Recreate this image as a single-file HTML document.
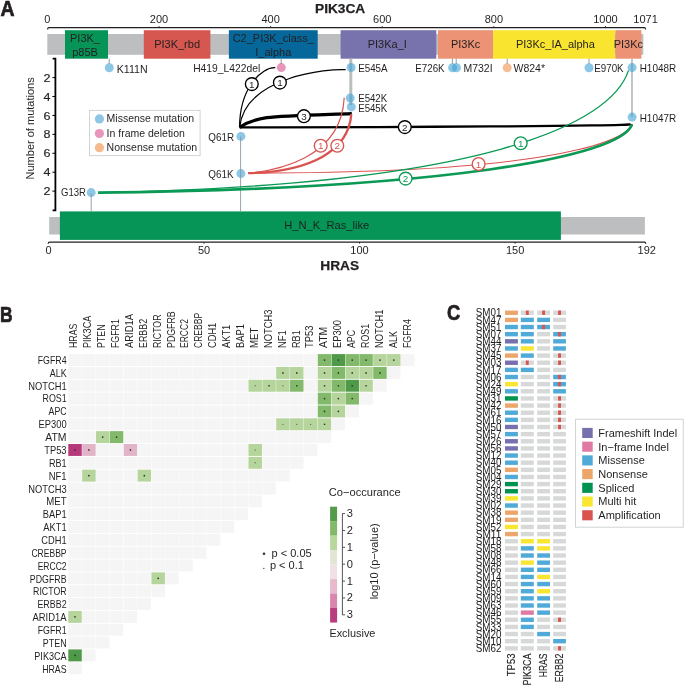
<!DOCTYPE html>
<html><head><meta charset="utf-8"><style>
html,body{margin:0;padding:0;background:#fff;overflow:hidden;}
svg{display:block;font-family:"Liberation Sans", sans-serif;will-change:transform;}
</style></head><body>
<svg width="685" height="686" viewBox="0 0 685 686">
<rect width="685" height="686" fill="#fff"/>
<text transform="translate(0.4,15.5) scale(0.9,1)" font-size="21.6" font-weight="bold" fill="#231f20" stroke="#231f20" stroke-width="0.7">A</text>
<text x="315.00" y="13.10" font-size="13.7" text-anchor="start" font-weight="bold" fill="#231f20" stroke="#231f20" stroke-width="0.25">PIK3CA</text>
<path d="M47.6,29.4 Q47.6,27.6 49,27.6 H644.2 Q645.6,27.6 645.6,29.4" fill="none" stroke="#231f20" stroke-width="1.2"/>
<line x1="159.02" y1="26.2" x2="159.02" y2="27.6" stroke="#231f20" stroke-width="1"/>
<line x1="270.64" y1="26.2" x2="270.64" y2="27.6" stroke="#231f20" stroke-width="1"/>
<line x1="382.26" y1="26.2" x2="382.26" y2="27.6" stroke="#231f20" stroke-width="1"/>
<line x1="493.88" y1="26.2" x2="493.88" y2="27.6" stroke="#231f20" stroke-width="1"/>
<line x1="605.50" y1="26.2" x2="605.50" y2="27.6" stroke="#231f20" stroke-width="1"/>
<text x="47.40" y="22.90" font-size="11" text-anchor="middle" font-weight="normal" fill="#231f20" >0</text>
<text x="159.02" y="22.90" font-size="11" text-anchor="middle" font-weight="normal" fill="#231f20" >200</text>
<text x="270.64" y="22.90" font-size="11" text-anchor="middle" font-weight="normal" fill="#231f20" >400</text>
<text x="382.26" y="22.90" font-size="11" text-anchor="middle" font-weight="normal" fill="#231f20" >600</text>
<text x="493.88" y="22.90" font-size="11" text-anchor="middle" font-weight="normal" fill="#231f20" >800</text>
<text x="605.50" y="22.90" font-size="11" text-anchor="middle" font-weight="normal" fill="#231f20" >1000</text>
<text x="645.60" y="22.90" font-size="11" text-anchor="middle" font-weight="normal" fill="#231f20" >1071</text>
<rect x="47.3" y="34.0" width="596" height="20.8" fill="#bcbec0"/>
<rect x="65.0" y="30.2" width="43.00" height="28.5" fill="#069457"/>
<text x="85.00" y="41.90" font-size="11" text-anchor="middle" font-weight="normal" fill="#231f20" >PI3K_</text>
<text x="85.00" y="55.60" font-size="11" text-anchor="middle" font-weight="normal" fill="#231f20" >p85B</text>
<rect x="143.8" y="30.2" width="66.60" height="28.5" fill="#d6574f"/>
<text x="177.10" y="48.20" font-size="11" text-anchor="middle" font-weight="normal" fill="#231f20" >PI3K_rbd</text>
<rect x="228.9" y="30.2" width="88.80" height="28.5" fill="#06679b"/>
<text x="273.30" y="41.90" font-size="11" text-anchor="middle" font-weight="normal" fill="#231f20" >C2_PI3K_class_</text>
<text x="273.30" y="55.60" font-size="11" text-anchor="middle" font-weight="normal" fill="#231f20" >I_alpha</text>
<rect x="340.6" y="30.2" width="95.70" height="28.5" fill="#7873ad"/>
<text x="387.30" y="48.20" font-size="11" text-anchor="middle" font-weight="normal" fill="#231f20" >PI3Ka_I</text>
<rect x="438.0" y="30.2" width="55.20" height="28.5" fill="#ec9376"/>
<text x="465.60" y="48.20" font-size="11" text-anchor="middle" font-weight="normal" fill="#231f20" >PI3Kc</text>
<rect x="493.2" y="30.2" width="121.90" height="28.5" fill="#f9e52f"/>
<text x="555.40" y="48.20" font-size="11" text-anchor="middle" font-weight="normal" fill="#231f20" >PI3Kc_IA_alpha</text>
<rect x="615.3" y="30.2" width="26.10" height="28.5" fill="#ec9376"/>
<text x="628.35" y="48.20" font-size="11" text-anchor="middle" font-weight="normal" fill="#231f20" >PI3Kc</text>
<line x1="350.8" y1="58.7" x2="350.8" y2="105" stroke="#bbbec1" stroke-width="3"/>
<line x1="632" y1="58.7" x2="632" y2="117" stroke="#bbbec1" stroke-width="1.8"/>
<line x1="109.2" y1="58.7" x2="109.2" y2="64" stroke="#8d8f92" stroke-width="0.9"/>
<line x1="281.2" y1="58.7" x2="281.2" y2="64" stroke="#8d8f92" stroke-width="0.9"/>
<line x1="452.4" y1="58.7" x2="452.4" y2="64" stroke="#8d8f92" stroke-width="0.9"/>
<line x1="456.2" y1="58.7" x2="456.2" y2="64" stroke="#8d8f92" stroke-width="0.9"/>
<line x1="507.2" y1="58.7" x2="507.2" y2="64" stroke="#8d8f92" stroke-width="0.9"/>
<line x1="589.0" y1="58.7" x2="589.0" y2="64" stroke="#8d8f92" stroke-width="0.9"/>
<circle cx="109.3" cy="67.7" r="4.5" fill="#41a2d5" fill-opacity="0.6"/>
<circle cx="281.3" cy="67.6" r="4.5" fill="#d8508c" fill-opacity="0.6"/>
<circle cx="351.1" cy="67.5" r="4.5" fill="#41a2d5" fill-opacity="0.6"/>
<circle cx="350.2" cy="98.1" r="4.5" fill="#41a2d5" fill-opacity="0.6"/>
<circle cx="351.3" cy="106.9" r="4.5" fill="#41a2d5" fill-opacity="0.6"/>
<circle cx="452.6" cy="67.8" r="4.5" fill="#41a2d5" fill-opacity="0.6"/>
<circle cx="456.4" cy="67.8" r="4.5" fill="#41a2d5" fill-opacity="0.6"/>
<circle cx="507.2" cy="67.8" r="4.5" fill="#ee934d" fill-opacity="0.6"/>
<circle cx="589.0" cy="67.8" r="4.5" fill="#41a2d5" fill-opacity="0.6"/>
<circle cx="632.1" cy="67.6" r="4.5" fill="#41a2d5" fill-opacity="0.6"/>
<circle cx="632.1" cy="117.1" r="4.5" fill="#41a2d5" fill-opacity="0.6"/>
<text x="116.70" y="72.60" font-size="10.2" fill="#231f20" textLength="30.90" lengthAdjust="spacingAndGlyphs">K111N</text>
<text x="193.20" y="72.20" font-size="10.2" fill="#231f20" textLength="67.00" lengthAdjust="spacingAndGlyphs">H419_L422del</text>
<text x="358.20" y="71.90" font-size="10.2" fill="#231f20" textLength="29.40" lengthAdjust="spacingAndGlyphs">E545A</text>
<text x="358.20" y="102.40" font-size="10.2" fill="#231f20" textLength="29.00" lengthAdjust="spacingAndGlyphs">E542K</text>
<text x="358.20" y="112.10" font-size="10.2" fill="#231f20" textLength="29.00" lengthAdjust="spacingAndGlyphs">E545K</text>
<text x="415.30" y="72.20" font-size="10.2" fill="#231f20" textLength="29.30" lengthAdjust="spacingAndGlyphs">E726K</text>
<text x="463.50" y="72.20" font-size="10.2" fill="#231f20" textLength="29.10" lengthAdjust="spacingAndGlyphs">M732I</text>
<text x="513.50" y="72.20" font-size="10.2" fill="#231f20" textLength="31.50" lengthAdjust="spacingAndGlyphs">W824*</text>
<text x="594.30" y="72.20" font-size="10.2" fill="#231f20" textLength="29.30" lengthAdjust="spacingAndGlyphs">E970K</text>
<text x="639.70" y="71.90" font-size="10.2" fill="#231f20" textLength="36.50" lengthAdjust="spacingAndGlyphs">H1048R</text>
<text x="639.70" y="121.60" font-size="10.2" fill="#231f20" textLength="36.50" lengthAdjust="spacingAndGlyphs">H1047R</text>
<path d="M52.6,58.7 H55.4 V210.4 H52.6" fill="none" stroke="#000" stroke-width="1.8"/>
<line x1="52.4" y1="77.60" x2="55" y2="77.60" stroke="#000" stroke-width="1"/>
<text transform="translate(50.5,81.70) scale(1.1,1)" font-size="11.4" text-anchor="end" fill="#231f20" stroke="#231f20" stroke-width="0.15">2</text>
<line x1="52.4" y1="96.52" x2="55" y2="96.52" stroke="#000" stroke-width="1"/>
<text transform="translate(50.5,100.62) scale(1.1,1)" font-size="11.4" text-anchor="end" fill="#231f20" stroke="#231f20" stroke-width="0.15">4</text>
<line x1="52.4" y1="115.44" x2="55" y2="115.44" stroke="#000" stroke-width="1"/>
<text transform="translate(50.5,119.54) scale(1.1,1)" font-size="11.4" text-anchor="end" fill="#231f20" stroke="#231f20" stroke-width="0.15">6</text>
<line x1="52.4" y1="134.36" x2="55" y2="134.36" stroke="#000" stroke-width="1"/>
<text transform="translate(50.5,138.46) scale(1.1,1)" font-size="11.4" text-anchor="end" fill="#231f20" stroke="#231f20" stroke-width="0.15">8</text>
<line x1="52.4" y1="153.28" x2="55" y2="153.28" stroke="#000" stroke-width="1"/>
<text transform="translate(50.5,157.38) scale(1.1,1)" font-size="11.4" text-anchor="end" fill="#231f20" stroke="#231f20" stroke-width="0.15">6</text>
<line x1="52.4" y1="172.20" x2="55" y2="172.20" stroke="#000" stroke-width="1"/>
<text transform="translate(50.5,176.30) scale(1.1,1)" font-size="11.4" text-anchor="end" fill="#231f20" stroke="#231f20" stroke-width="0.15">4</text>
<line x1="52.4" y1="191.12" x2="55" y2="191.12" stroke="#000" stroke-width="1"/>
<text transform="translate(50.5,195.22) scale(1.1,1)" font-size="11.4" text-anchor="end" fill="#231f20" stroke="#231f20" stroke-width="0.15">2</text>
<text x="0.00" y="0.00" font-size="11" text-anchor="middle" font-weight="normal" fill="#231f20" transform="translate(34.1,128.4) rotate(-90)">Number of mutations</text>
<rect x="89.5" y="110.4" width="110.6" height="45.2" fill="#fff" stroke="#d1d3d4" stroke-width="1"/>
<circle cx="99.4" cy="118.9" r="4.6" fill="#8ec7e6"/>
<text x="106.60" y="122.30" font-size="10.5" text-anchor="start" font-weight="normal" fill="#231f20" >Missense mutation</text>
<circle cx="99.4" cy="133.5" r="4.6" fill="#e896bb"/>
<text x="106.60" y="136.90" font-size="10.5" text-anchor="start" font-weight="normal" fill="#231f20" >In frame deletion</text>
<circle cx="99.4" cy="147.7" r="4.6" fill="#f5bb8e"/>
<text x="106.60" y="151.10" font-size="10.5" text-anchor="start" font-weight="normal" fill="#231f20" >Nonsense mutation</text>
<rect x="49.2" y="217.0" width="595.7" height="17.5" fill="#bcbec0"/>
<rect x="59.9" y="211.4" width="501.0" height="28.5" fill="#069457"/>
<text x="284.2" y="228.5" font-size="10.9" fill="#1a2420" textLength="85.0" lengthAdjust="spacingAndGlyphs">H_N_K_Ras_like</text>
<path d="M48.2,243.8 Q48.2,242.1 49.6,242.1 H644.4 Q645.8,242.1 645.8,243.8" fill="none" stroke="#231f20" stroke-width="1.2"/>
<line x1="204.00" y1="242" x2="204.00" y2="243.6" stroke="#231f20" stroke-width="1"/>
<line x1="359.55" y1="242" x2="359.55" y2="243.6" stroke="#231f20" stroke-width="1"/>
<line x1="515.10" y1="242" x2="515.10" y2="243.6" stroke="#231f20" stroke-width="1"/>
<text x="48.50" y="253.90" font-size="11" text-anchor="middle" font-weight="normal" fill="#231f20" >0</text>
<text x="204.00" y="253.90" font-size="11" text-anchor="middle" font-weight="normal" fill="#231f20" >50</text>
<text x="359.55" y="253.90" font-size="11" text-anchor="middle" font-weight="normal" fill="#231f20" >100</text>
<text x="515.10" y="253.90" font-size="11" text-anchor="middle" font-weight="normal" fill="#231f20" >150</text>
<text x="646.80" y="253.90" font-size="11" text-anchor="middle" font-weight="normal" fill="#231f20" >192</text>
<text x="320.30" y="270.10" font-size="13.7" text-anchor="start" font-weight="bold" fill="#231f20" stroke="#231f20" stroke-width="0.25">HRAS</text>
<circle cx="240.9" cy="136.4" r="4.5" fill="#41a2d5" fill-opacity="0.6"/>
<circle cx="240.9" cy="173.6" r="4.5" fill="#41a2d5" fill-opacity="0.6"/>
<circle cx="91.2" cy="192.6" r="4.5" fill="#41a2d5" fill-opacity="0.6"/>
<line x1="240.6" y1="136.5" x2="240.6" y2="211.4" stroke="#8a97a3" stroke-width="0.9"/>
<line x1="91.2" y1="193" x2="91.2" y2="211.4" stroke="#8a97a3" stroke-width="0.9"/>
<text x="208.30" y="140.80" font-size="10.2" fill="#231f20" textLength="25.70" lengthAdjust="spacingAndGlyphs">Q61R</text>
<text x="208.30" y="177.60" font-size="10.2" fill="#231f20" textLength="25.30" lengthAdjust="spacingAndGlyphs">Q61K</text>
<text x="61.00" y="196.40" font-size="10.2" fill="#231f20" textLength="25.00" lengthAdjust="spacingAndGlyphs">G13R</text>
<path d="M239.6,127.3 C239.5,88.1 261.7,66.9 275.3,67.7" fill="none" stroke="#000" stroke-width="1.25"/>
<path d="M239.6,127.3 C245.3,75.8 329.5,68.6 345.7,69.7" fill="none" stroke="#000" stroke-width="1.25"/>
<path d="M239.6,127.3 C257.6,115.7 267.5,116.5 351.8,113.6" fill="none" stroke="#000" stroke-width="3.3"/>
<path d="M239.6,127.3 C386.3,127.5 631.7,125.9 631.5,124.2" fill="none" stroke="#000" stroke-width="2.3"/>
<path d="M248.2,173.1 C274.3,170.6 341.4,159.6 344.2,97.6" fill="none" stroke="#d9534f" stroke-width="1.15"/>
<path d="M248.2,173.1 C310.6,171.6 348.6,151.1 351.3,114.2" fill="none" stroke="#d9534f" stroke-width="2.3"/>
<path d="M248.2,173.1 C615.4,173.1 631.8,127.0 631.8,124.5" fill="none" stroke="#d9534f" stroke-width="1.15"/>
<path d="M98.0,192.7 C483.7,185.1 611.0,124.6 628.5,70.4" fill="none" stroke="#0a9a55" stroke-width="1.3"/>
<path d="M98.0,192.7 C443.3,188.9 619.0,157.2 632.0,124.8" fill="none" stroke="#0a9a55" stroke-width="2.7"/>
<circle cx="251.8" cy="84.1" r="6.4" fill="#fff" stroke="#000" stroke-width="1.35"/>
<text x="251.80" y="87.60" font-size="9.9" text-anchor="middle" font-weight="normal" fill="#231f20" >1</text>
<circle cx="279.9" cy="82.6" r="6.4" fill="#fff" stroke="#000" stroke-width="1.35"/>
<text x="279.90" y="86.10" font-size="9.9" text-anchor="middle" font-weight="normal" fill="#231f20" >1</text>
<circle cx="303.9" cy="116.2" r="6.4" fill="#fff" stroke="#000" stroke-width="1.35"/>
<text x="303.90" y="119.70" font-size="9.9" text-anchor="middle" font-weight="normal" fill="#231f20" >3</text>
<circle cx="404.8" cy="127.1" r="6.4" fill="#fff" stroke="#000" stroke-width="1.35"/>
<text x="404.80" y="130.60" font-size="9.9" text-anchor="middle" font-weight="normal" fill="#231f20" >2</text>
<circle cx="320.7" cy="145.7" r="6.4" fill="#fff" stroke="#d9534f" stroke-width="1.35"/>
<text x="320.70" y="149.20" font-size="9.9" text-anchor="middle" font-weight="normal" fill="#d9534f" >1</text>
<circle cx="337.3" cy="145.7" r="6.4" fill="#fff" stroke="#d9534f" stroke-width="1.35"/>
<text x="337.30" y="149.20" font-size="9.9" text-anchor="middle" font-weight="normal" fill="#d9534f" >2</text>
<circle cx="478.6" cy="164.0" r="6.4" fill="#fff" stroke="#d9534f" stroke-width="1.35"/>
<text x="478.60" y="167.50" font-size="9.9" text-anchor="middle" font-weight="normal" fill="#d9534f" >1</text>
<circle cx="520.7" cy="143.2" r="6.4" fill="#fff" stroke="#0a9a55" stroke-width="1.35"/>
<text x="520.70" y="146.70" font-size="9.9" text-anchor="middle" font-weight="normal" fill="#0a9a55" >1</text>
<circle cx="405.6" cy="178.6" r="6.4" fill="#fff" stroke="#0a9a55" stroke-width="1.35"/>
<text x="405.60" y="182.10" font-size="9.9" text-anchor="middle" font-weight="normal" fill="#0a9a55" >2</text>
<text transform="translate(-0.1,321.8) scale(0.8,1)" font-size="21.8" font-weight="bold" fill="#231f20" stroke="#231f20" stroke-width="0.7">B</text>
<rect x="68.30" y="354.10" width="13.46" height="11.94" fill="#f5f5f5"/>
<rect x="82.16" y="354.10" width="13.46" height="11.94" fill="#f5f5f5"/>
<rect x="96.02" y="354.10" width="13.46" height="11.94" fill="#f5f5f5"/>
<rect x="109.88" y="354.10" width="13.46" height="11.94" fill="#f5f5f5"/>
<rect x="123.74" y="354.10" width="13.46" height="11.94" fill="#f5f5f5"/>
<rect x="137.60" y="354.10" width="13.46" height="11.94" fill="#f5f5f5"/>
<rect x="151.46" y="354.10" width="13.46" height="11.94" fill="#f5f5f5"/>
<rect x="165.32" y="354.10" width="13.46" height="11.94" fill="#f5f5f5"/>
<rect x="179.18" y="354.10" width="13.46" height="11.94" fill="#f5f5f5"/>
<rect x="193.04" y="354.10" width="13.46" height="11.94" fill="#f5f5f5"/>
<rect x="206.90" y="354.10" width="13.46" height="11.94" fill="#f5f5f5"/>
<rect x="220.76" y="354.10" width="13.46" height="11.94" fill="#f5f5f5"/>
<rect x="234.62" y="354.10" width="13.46" height="11.94" fill="#f5f5f5"/>
<rect x="248.48" y="354.10" width="13.46" height="11.94" fill="#f5f5f5"/>
<rect x="262.34" y="354.10" width="13.46" height="11.94" fill="#f5f5f5"/>
<rect x="276.20" y="354.10" width="13.46" height="11.94" fill="#f5f5f5"/>
<rect x="290.06" y="354.10" width="13.46" height="11.94" fill="#f5f5f5"/>
<rect x="303.92" y="354.10" width="13.46" height="11.94" fill="#f5f5f5"/>
<rect x="317.78" y="354.10" width="13.46" height="11.94" fill="#82b96a"/>
<circle cx="324.51" cy="360.07" r="0.85" fill="#333"/>
<rect x="331.64" y="354.10" width="13.46" height="11.94" fill="#4f9a48"/>
<circle cx="338.37" cy="360.07" r="0.85" fill="#333"/>
<rect x="345.50" y="354.10" width="13.46" height="11.94" fill="#82b96a"/>
<circle cx="352.23" cy="360.07" r="0.85" fill="#333"/>
<rect x="359.36" y="354.10" width="13.46" height="11.94" fill="#82b96a"/>
<circle cx="366.09" cy="360.07" r="0.85" fill="#333"/>
<rect x="373.22" y="354.10" width="13.46" height="11.94" fill="#b6d59c"/>
<circle cx="379.95" cy="360.07" r="0.85" fill="#333"/>
<rect x="387.08" y="354.10" width="13.46" height="11.94" fill="#b6d59c"/>
<circle cx="393.81" cy="360.07" r="0.85" fill="#333"/>
<rect x="400.94" y="354.10" width="13.46" height="11.94" fill="#f5f5f5"/>
<rect x="68.30" y="366.94" width="13.46" height="11.94" fill="#f5f5f5"/>
<rect x="82.16" y="366.94" width="13.46" height="11.94" fill="#f5f5f5"/>
<rect x="96.02" y="366.94" width="13.46" height="11.94" fill="#f5f5f5"/>
<rect x="109.88" y="366.94" width="13.46" height="11.94" fill="#f5f5f5"/>
<rect x="123.74" y="366.94" width="13.46" height="11.94" fill="#f5f5f5"/>
<rect x="137.60" y="366.94" width="13.46" height="11.94" fill="#f5f5f5"/>
<rect x="151.46" y="366.94" width="13.46" height="11.94" fill="#f5f5f5"/>
<rect x="165.32" y="366.94" width="13.46" height="11.94" fill="#f5f5f5"/>
<rect x="179.18" y="366.94" width="13.46" height="11.94" fill="#f5f5f5"/>
<rect x="193.04" y="366.94" width="13.46" height="11.94" fill="#f5f5f5"/>
<rect x="206.90" y="366.94" width="13.46" height="11.94" fill="#f5f5f5"/>
<rect x="220.76" y="366.94" width="13.46" height="11.94" fill="#f5f5f5"/>
<rect x="234.62" y="366.94" width="13.46" height="11.94" fill="#f5f5f5"/>
<rect x="248.48" y="366.94" width="13.46" height="11.94" fill="#f5f5f5"/>
<rect x="262.34" y="366.94" width="13.46" height="11.94" fill="#f5f5f5"/>
<rect x="276.20" y="366.94" width="13.46" height="11.94" fill="#b6d59c"/>
<circle cx="282.93" cy="372.91" r="0.85" fill="#333"/>
<rect x="290.06" y="366.94" width="13.46" height="11.94" fill="#b6d59c"/>
<circle cx="296.79" cy="372.91" r="0.85" fill="#333"/>
<rect x="303.92" y="366.94" width="13.46" height="11.94" fill="#f5f5f5"/>
<rect x="317.78" y="366.94" width="13.46" height="11.94" fill="#b6d59c"/>
<circle cx="324.51" cy="372.91" r="0.85" fill="#333"/>
<rect x="331.64" y="366.94" width="13.46" height="11.94" fill="#82b96a"/>
<circle cx="338.37" cy="372.91" r="0.85" fill="#333"/>
<rect x="345.50" y="366.94" width="13.46" height="11.94" fill="#b6d59c"/>
<circle cx="352.23" cy="372.91" r="0.85" fill="#333"/>
<rect x="359.36" y="366.94" width="13.46" height="11.94" fill="#b6d59c"/>
<circle cx="366.09" cy="372.91" r="0.85" fill="#333"/>
<rect x="373.22" y="366.94" width="13.46" height="11.94" fill="#82b96a"/>
<circle cx="379.95" cy="372.91" r="0.85" fill="#333"/>
<rect x="387.08" y="366.94" width="13.46" height="11.94" fill="#f5f5f5"/>
<rect x="68.30" y="379.78" width="13.46" height="11.94" fill="#f5f5f5"/>
<rect x="82.16" y="379.78" width="13.46" height="11.94" fill="#f5f5f5"/>
<rect x="96.02" y="379.78" width="13.46" height="11.94" fill="#f5f5f5"/>
<rect x="109.88" y="379.78" width="13.46" height="11.94" fill="#f5f5f5"/>
<rect x="123.74" y="379.78" width="13.46" height="11.94" fill="#f5f5f5"/>
<rect x="137.60" y="379.78" width="13.46" height="11.94" fill="#f5f5f5"/>
<rect x="151.46" y="379.78" width="13.46" height="11.94" fill="#f5f5f5"/>
<rect x="165.32" y="379.78" width="13.46" height="11.94" fill="#f5f5f5"/>
<rect x="179.18" y="379.78" width="13.46" height="11.94" fill="#f5f5f5"/>
<rect x="193.04" y="379.78" width="13.46" height="11.94" fill="#f5f5f5"/>
<rect x="206.90" y="379.78" width="13.46" height="11.94" fill="#f5f5f5"/>
<rect x="220.76" y="379.78" width="13.46" height="11.94" fill="#f5f5f5"/>
<rect x="234.62" y="379.78" width="13.46" height="11.94" fill="#f5f5f5"/>
<rect x="248.48" y="379.78" width="13.46" height="11.94" fill="#b6d59c"/>
<circle cx="255.21" cy="385.75" r="0.55" fill="#333"/>
<rect x="262.34" y="379.78" width="13.46" height="11.94" fill="#b6d59c"/>
<circle cx="269.07" cy="385.75" r="0.85" fill="#333"/>
<rect x="276.20" y="379.78" width="13.46" height="11.94" fill="#b6d59c"/>
<circle cx="282.93" cy="385.75" r="0.55" fill="#333"/>
<rect x="290.06" y="379.78" width="13.46" height="11.94" fill="#82b96a"/>
<circle cx="296.79" cy="385.75" r="0.85" fill="#333"/>
<rect x="303.92" y="379.78" width="13.46" height="11.94" fill="#f5f5f5"/>
<rect x="317.78" y="379.78" width="13.46" height="11.94" fill="#b6d59c"/>
<circle cx="324.51" cy="385.75" r="0.85" fill="#333"/>
<rect x="331.64" y="379.78" width="13.46" height="11.94" fill="#82b96a"/>
<circle cx="338.37" cy="385.75" r="0.85" fill="#333"/>
<rect x="345.50" y="379.78" width="13.46" height="11.94" fill="#4f9a48"/>
<circle cx="352.23" cy="385.75" r="0.85" fill="#333"/>
<rect x="359.36" y="379.78" width="13.46" height="11.94" fill="#b6d59c"/>
<circle cx="366.09" cy="385.75" r="0.85" fill="#333"/>
<rect x="373.22" y="379.78" width="13.46" height="11.94" fill="#f5f5f5"/>
<rect x="68.30" y="392.62" width="13.46" height="11.94" fill="#f5f5f5"/>
<rect x="82.16" y="392.62" width="13.46" height="11.94" fill="#f5f5f5"/>
<rect x="96.02" y="392.62" width="13.46" height="11.94" fill="#f5f5f5"/>
<rect x="109.88" y="392.62" width="13.46" height="11.94" fill="#f5f5f5"/>
<rect x="123.74" y="392.62" width="13.46" height="11.94" fill="#f5f5f5"/>
<rect x="137.60" y="392.62" width="13.46" height="11.94" fill="#f5f5f5"/>
<rect x="151.46" y="392.62" width="13.46" height="11.94" fill="#f5f5f5"/>
<rect x="165.32" y="392.62" width="13.46" height="11.94" fill="#f5f5f5"/>
<rect x="179.18" y="392.62" width="13.46" height="11.94" fill="#f5f5f5"/>
<rect x="193.04" y="392.62" width="13.46" height="11.94" fill="#f5f5f5"/>
<rect x="206.90" y="392.62" width="13.46" height="11.94" fill="#f5f5f5"/>
<rect x="220.76" y="392.62" width="13.46" height="11.94" fill="#f5f5f5"/>
<rect x="234.62" y="392.62" width="13.46" height="11.94" fill="#f5f5f5"/>
<rect x="248.48" y="392.62" width="13.46" height="11.94" fill="#f5f5f5"/>
<rect x="262.34" y="392.62" width="13.46" height="11.94" fill="#f5f5f5"/>
<rect x="276.20" y="392.62" width="13.46" height="11.94" fill="#f5f5f5"/>
<rect x="290.06" y="392.62" width="13.46" height="11.94" fill="#f5f5f5"/>
<rect x="303.92" y="392.62" width="13.46" height="11.94" fill="#f5f5f5"/>
<rect x="317.78" y="392.62" width="13.46" height="11.94" fill="#82b96a"/>
<circle cx="324.51" cy="398.59" r="0.85" fill="#333"/>
<rect x="331.64" y="392.62" width="13.46" height="11.94" fill="#b6d59c"/>
<circle cx="338.37" cy="398.59" r="0.85" fill="#333"/>
<rect x="345.50" y="392.62" width="13.46" height="11.94" fill="#82b96a"/>
<circle cx="352.23" cy="398.59" r="0.85" fill="#333"/>
<rect x="359.36" y="392.62" width="13.46" height="11.94" fill="#f5f5f5"/>
<rect x="68.30" y="405.46" width="13.46" height="11.94" fill="#f5f5f5"/>
<rect x="82.16" y="405.46" width="13.46" height="11.94" fill="#f5f5f5"/>
<rect x="96.02" y="405.46" width="13.46" height="11.94" fill="#f5f5f5"/>
<rect x="109.88" y="405.46" width="13.46" height="11.94" fill="#f5f5f5"/>
<rect x="123.74" y="405.46" width="13.46" height="11.94" fill="#f5f5f5"/>
<rect x="137.60" y="405.46" width="13.46" height="11.94" fill="#f5f5f5"/>
<rect x="151.46" y="405.46" width="13.46" height="11.94" fill="#f5f5f5"/>
<rect x="165.32" y="405.46" width="13.46" height="11.94" fill="#f5f5f5"/>
<rect x="179.18" y="405.46" width="13.46" height="11.94" fill="#f5f5f5"/>
<rect x="193.04" y="405.46" width="13.46" height="11.94" fill="#f5f5f5"/>
<rect x="206.90" y="405.46" width="13.46" height="11.94" fill="#f5f5f5"/>
<rect x="220.76" y="405.46" width="13.46" height="11.94" fill="#f5f5f5"/>
<rect x="234.62" y="405.46" width="13.46" height="11.94" fill="#f5f5f5"/>
<rect x="248.48" y="405.46" width="13.46" height="11.94" fill="#f5f5f5"/>
<rect x="262.34" y="405.46" width="13.46" height="11.94" fill="#f5f5f5"/>
<rect x="276.20" y="405.46" width="13.46" height="11.94" fill="#f5f5f5"/>
<rect x="290.06" y="405.46" width="13.46" height="11.94" fill="#f5f5f5"/>
<rect x="303.92" y="405.46" width="13.46" height="11.94" fill="#f5f5f5"/>
<rect x="317.78" y="405.46" width="13.46" height="11.94" fill="#82b96a"/>
<circle cx="324.51" cy="411.43" r="0.85" fill="#333"/>
<rect x="331.64" y="405.46" width="13.46" height="11.94" fill="#b6d59c"/>
<circle cx="338.37" cy="411.43" r="0.85" fill="#333"/>
<rect x="345.50" y="405.46" width="13.46" height="11.94" fill="#f5f5f5"/>
<rect x="68.30" y="418.30" width="13.46" height="11.94" fill="#f5f5f5"/>
<rect x="82.16" y="418.30" width="13.46" height="11.94" fill="#f5f5f5"/>
<rect x="96.02" y="418.30" width="13.46" height="11.94" fill="#f5f5f5"/>
<rect x="109.88" y="418.30" width="13.46" height="11.94" fill="#f5f5f5"/>
<rect x="123.74" y="418.30" width="13.46" height="11.94" fill="#f5f5f5"/>
<rect x="137.60" y="418.30" width="13.46" height="11.94" fill="#f5f5f5"/>
<rect x="151.46" y="418.30" width="13.46" height="11.94" fill="#f5f5f5"/>
<rect x="165.32" y="418.30" width="13.46" height="11.94" fill="#f5f5f5"/>
<rect x="179.18" y="418.30" width="13.46" height="11.94" fill="#f5f5f5"/>
<rect x="193.04" y="418.30" width="13.46" height="11.94" fill="#f5f5f5"/>
<rect x="206.90" y="418.30" width="13.46" height="11.94" fill="#f5f5f5"/>
<rect x="220.76" y="418.30" width="13.46" height="11.94" fill="#f5f5f5"/>
<rect x="234.62" y="418.30" width="13.46" height="11.94" fill="#f5f5f5"/>
<rect x="248.48" y="418.30" width="13.46" height="11.94" fill="#f5f5f5"/>
<rect x="262.34" y="418.30" width="13.46" height="11.94" fill="#f5f5f5"/>
<rect x="276.20" y="418.30" width="13.46" height="11.94" fill="#b6d59c"/>
<circle cx="282.93" cy="424.27" r="0.55" fill="#333"/>
<rect x="290.06" y="418.30" width="13.46" height="11.94" fill="#b6d59c"/>
<circle cx="296.79" cy="424.27" r="0.55" fill="#333"/>
<rect x="303.92" y="418.30" width="13.46" height="11.94" fill="#b6d59c"/>
<circle cx="310.65" cy="424.27" r="0.55" fill="#333"/>
<rect x="317.78" y="418.30" width="13.46" height="11.94" fill="#b6d59c"/>
<circle cx="324.51" cy="424.27" r="0.85" fill="#333"/>
<rect x="331.64" y="418.30" width="13.46" height="11.94" fill="#f5f5f5"/>
<rect x="68.30" y="431.14" width="13.46" height="11.94" fill="#f5f5f5"/>
<rect x="82.16" y="431.14" width="13.46" height="11.94" fill="#f5f5f5"/>
<rect x="96.02" y="431.14" width="13.46" height="11.94" fill="#b6d59c"/>
<circle cx="102.75" cy="437.11" r="0.85" fill="#333"/>
<rect x="109.88" y="431.14" width="13.46" height="11.94" fill="#82b96a"/>
<circle cx="116.61" cy="437.11" r="0.85" fill="#333"/>
<rect x="123.74" y="431.14" width="13.46" height="11.94" fill="#f5f5f5"/>
<rect x="137.60" y="431.14" width="13.46" height="11.94" fill="#f5f5f5"/>
<rect x="151.46" y="431.14" width="13.46" height="11.94" fill="#f5f5f5"/>
<rect x="165.32" y="431.14" width="13.46" height="11.94" fill="#f5f5f5"/>
<rect x="179.18" y="431.14" width="13.46" height="11.94" fill="#f5f5f5"/>
<rect x="193.04" y="431.14" width="13.46" height="11.94" fill="#f5f5f5"/>
<rect x="206.90" y="431.14" width="13.46" height="11.94" fill="#f5f5f5"/>
<rect x="220.76" y="431.14" width="13.46" height="11.94" fill="#f5f5f5"/>
<rect x="234.62" y="431.14" width="13.46" height="11.94" fill="#f5f5f5"/>
<rect x="248.48" y="431.14" width="13.46" height="11.94" fill="#f5f5f5"/>
<rect x="262.34" y="431.14" width="13.46" height="11.94" fill="#f5f5f5"/>
<rect x="276.20" y="431.14" width="13.46" height="11.94" fill="#f5f5f5"/>
<rect x="290.06" y="431.14" width="13.46" height="11.94" fill="#f5f5f5"/>
<rect x="303.92" y="431.14" width="13.46" height="11.94" fill="#f5f5f5"/>
<rect x="317.78" y="431.14" width="13.46" height="11.94" fill="#f5f5f5"/>
<rect x="68.30" y="443.98" width="13.46" height="11.94" fill="#b6387b"/>
<circle cx="75.03" cy="449.95" r="0.85" fill="#333"/>
<rect x="82.16" y="443.98" width="13.46" height="11.94" fill="#e2b4c8"/>
<circle cx="88.89" cy="449.95" r="0.85" fill="#333"/>
<rect x="96.02" y="443.98" width="13.46" height="11.94" fill="#f5f5f5"/>
<rect x="109.88" y="443.98" width="13.46" height="11.94" fill="#f5f5f5"/>
<rect x="123.74" y="443.98" width="13.46" height="11.94" fill="#e2b4c8"/>
<circle cx="130.47" cy="449.95" r="0.85" fill="#333"/>
<rect x="137.60" y="443.98" width="13.46" height="11.94" fill="#f5f5f5"/>
<rect x="151.46" y="443.98" width="13.46" height="11.94" fill="#f5f5f5"/>
<rect x="165.32" y="443.98" width="13.46" height="11.94" fill="#f5f5f5"/>
<rect x="179.18" y="443.98" width="13.46" height="11.94" fill="#f5f5f5"/>
<rect x="193.04" y="443.98" width="13.46" height="11.94" fill="#f5f5f5"/>
<rect x="206.90" y="443.98" width="13.46" height="11.94" fill="#f5f5f5"/>
<rect x="220.76" y="443.98" width="13.46" height="11.94" fill="#f5f5f5"/>
<rect x="234.62" y="443.98" width="13.46" height="11.94" fill="#f5f5f5"/>
<rect x="248.48" y="443.98" width="13.46" height="11.94" fill="#b6d59c"/>
<circle cx="255.21" cy="449.95" r="0.55" fill="#333"/>
<rect x="262.34" y="443.98" width="13.46" height="11.94" fill="#f5f5f5"/>
<rect x="276.20" y="443.98" width="13.46" height="11.94" fill="#f5f5f5"/>
<rect x="290.06" y="443.98" width="13.46" height="11.94" fill="#f5f5f5"/>
<rect x="303.92" y="443.98" width="13.46" height="11.94" fill="#f5f5f5"/>
<rect x="68.30" y="456.82" width="13.46" height="11.94" fill="#f5f5f5"/>
<rect x="82.16" y="456.82" width="13.46" height="11.94" fill="#f5f5f5"/>
<rect x="96.02" y="456.82" width="13.46" height="11.94" fill="#f5f5f5"/>
<rect x="109.88" y="456.82" width="13.46" height="11.94" fill="#f5f5f5"/>
<rect x="123.74" y="456.82" width="13.46" height="11.94" fill="#f5f5f5"/>
<rect x="137.60" y="456.82" width="13.46" height="11.94" fill="#f5f5f5"/>
<rect x="151.46" y="456.82" width="13.46" height="11.94" fill="#f5f5f5"/>
<rect x="165.32" y="456.82" width="13.46" height="11.94" fill="#f5f5f5"/>
<rect x="179.18" y="456.82" width="13.46" height="11.94" fill="#f5f5f5"/>
<rect x="193.04" y="456.82" width="13.46" height="11.94" fill="#f5f5f5"/>
<rect x="206.90" y="456.82" width="13.46" height="11.94" fill="#f5f5f5"/>
<rect x="220.76" y="456.82" width="13.46" height="11.94" fill="#f5f5f5"/>
<rect x="234.62" y="456.82" width="13.46" height="11.94" fill="#f5f5f5"/>
<rect x="248.48" y="456.82" width="13.46" height="11.94" fill="#b6d59c"/>
<circle cx="255.21" cy="462.79" r="0.55" fill="#333"/>
<rect x="262.34" y="456.82" width="13.46" height="11.94" fill="#f5f5f5"/>
<rect x="276.20" y="456.82" width="13.46" height="11.94" fill="#f5f5f5"/>
<rect x="290.06" y="456.82" width="13.46" height="11.94" fill="#f5f5f5"/>
<rect x="68.30" y="469.66" width="13.46" height="11.94" fill="#f5f5f5"/>
<rect x="82.16" y="469.66" width="13.46" height="11.94" fill="#b6d59c"/>
<circle cx="88.89" cy="475.63" r="0.85" fill="#333"/>
<rect x="96.02" y="469.66" width="13.46" height="11.94" fill="#f5f5f5"/>
<rect x="109.88" y="469.66" width="13.46" height="11.94" fill="#f5f5f5"/>
<rect x="123.74" y="469.66" width="13.46" height="11.94" fill="#f5f5f5"/>
<rect x="137.60" y="469.66" width="13.46" height="11.94" fill="#b6d59c"/>
<circle cx="144.33" cy="475.63" r="0.85" fill="#333"/>
<rect x="151.46" y="469.66" width="13.46" height="11.94" fill="#f5f5f5"/>
<rect x="165.32" y="469.66" width="13.46" height="11.94" fill="#f5f5f5"/>
<rect x="179.18" y="469.66" width="13.46" height="11.94" fill="#f5f5f5"/>
<rect x="193.04" y="469.66" width="13.46" height="11.94" fill="#f5f5f5"/>
<rect x="206.90" y="469.66" width="13.46" height="11.94" fill="#f5f5f5"/>
<rect x="220.76" y="469.66" width="13.46" height="11.94" fill="#f5f5f5"/>
<rect x="234.62" y="469.66" width="13.46" height="11.94" fill="#f5f5f5"/>
<rect x="248.48" y="469.66" width="13.46" height="11.94" fill="#f5f5f5"/>
<rect x="262.34" y="469.66" width="13.46" height="11.94" fill="#f5f5f5"/>
<rect x="276.20" y="469.66" width="13.46" height="11.94" fill="#f5f5f5"/>
<rect x="68.30" y="482.50" width="13.46" height="11.94" fill="#f5f5f5"/>
<rect x="82.16" y="482.50" width="13.46" height="11.94" fill="#f5f5f5"/>
<rect x="96.02" y="482.50" width="13.46" height="11.94" fill="#f5f5f5"/>
<rect x="109.88" y="482.50" width="13.46" height="11.94" fill="#f5f5f5"/>
<rect x="123.74" y="482.50" width="13.46" height="11.94" fill="#f5f5f5"/>
<rect x="137.60" y="482.50" width="13.46" height="11.94" fill="#f5f5f5"/>
<rect x="151.46" y="482.50" width="13.46" height="11.94" fill="#f5f5f5"/>
<rect x="165.32" y="482.50" width="13.46" height="11.94" fill="#f5f5f5"/>
<rect x="179.18" y="482.50" width="13.46" height="11.94" fill="#f5f5f5"/>
<rect x="193.04" y="482.50" width="13.46" height="11.94" fill="#f5f5f5"/>
<rect x="206.90" y="482.50" width="13.46" height="11.94" fill="#f5f5f5"/>
<rect x="220.76" y="482.50" width="13.46" height="11.94" fill="#f5f5f5"/>
<rect x="234.62" y="482.50" width="13.46" height="11.94" fill="#f5f5f5"/>
<rect x="248.48" y="482.50" width="13.46" height="11.94" fill="#f5f5f5"/>
<rect x="262.34" y="482.50" width="13.46" height="11.94" fill="#f5f5f5"/>
<rect x="68.30" y="495.34" width="13.46" height="11.94" fill="#f5f5f5"/>
<rect x="82.16" y="495.34" width="13.46" height="11.94" fill="#f5f5f5"/>
<rect x="96.02" y="495.34" width="13.46" height="11.94" fill="#f5f5f5"/>
<rect x="109.88" y="495.34" width="13.46" height="11.94" fill="#f5f5f5"/>
<rect x="123.74" y="495.34" width="13.46" height="11.94" fill="#f5f5f5"/>
<rect x="137.60" y="495.34" width="13.46" height="11.94" fill="#f5f5f5"/>
<rect x="151.46" y="495.34" width="13.46" height="11.94" fill="#f5f5f5"/>
<rect x="165.32" y="495.34" width="13.46" height="11.94" fill="#f5f5f5"/>
<rect x="179.18" y="495.34" width="13.46" height="11.94" fill="#f5f5f5"/>
<rect x="193.04" y="495.34" width="13.46" height="11.94" fill="#f5f5f5"/>
<rect x="206.90" y="495.34" width="13.46" height="11.94" fill="#f5f5f5"/>
<rect x="220.76" y="495.34" width="13.46" height="11.94" fill="#f5f5f5"/>
<rect x="234.62" y="495.34" width="13.46" height="11.94" fill="#f5f5f5"/>
<rect x="248.48" y="495.34" width="13.46" height="11.94" fill="#f5f5f5"/>
<rect x="68.30" y="508.18" width="13.46" height="11.94" fill="#f5f5f5"/>
<rect x="82.16" y="508.18" width="13.46" height="11.94" fill="#f5f5f5"/>
<rect x="96.02" y="508.18" width="13.46" height="11.94" fill="#f5f5f5"/>
<rect x="109.88" y="508.18" width="13.46" height="11.94" fill="#f5f5f5"/>
<rect x="123.74" y="508.18" width="13.46" height="11.94" fill="#f5f5f5"/>
<rect x="137.60" y="508.18" width="13.46" height="11.94" fill="#f5f5f5"/>
<rect x="151.46" y="508.18" width="13.46" height="11.94" fill="#f5f5f5"/>
<rect x="165.32" y="508.18" width="13.46" height="11.94" fill="#f5f5f5"/>
<rect x="179.18" y="508.18" width="13.46" height="11.94" fill="#f5f5f5"/>
<rect x="193.04" y="508.18" width="13.46" height="11.94" fill="#f5f5f5"/>
<rect x="206.90" y="508.18" width="13.46" height="11.94" fill="#f5f5f5"/>
<rect x="220.76" y="508.18" width="13.46" height="11.94" fill="#f5f5f5"/>
<rect x="234.62" y="508.18" width="13.46" height="11.94" fill="#f5f5f5"/>
<rect x="68.30" y="521.02" width="13.46" height="11.94" fill="#f5f5f5"/>
<rect x="82.16" y="521.02" width="13.46" height="11.94" fill="#f5f5f5"/>
<rect x="96.02" y="521.02" width="13.46" height="11.94" fill="#f5f5f5"/>
<rect x="109.88" y="521.02" width="13.46" height="11.94" fill="#f5f5f5"/>
<rect x="123.74" y="521.02" width="13.46" height="11.94" fill="#f5f5f5"/>
<rect x="137.60" y="521.02" width="13.46" height="11.94" fill="#f5f5f5"/>
<rect x="151.46" y="521.02" width="13.46" height="11.94" fill="#f5f5f5"/>
<rect x="165.32" y="521.02" width="13.46" height="11.94" fill="#f5f5f5"/>
<rect x="179.18" y="521.02" width="13.46" height="11.94" fill="#f5f5f5"/>
<rect x="193.04" y="521.02" width="13.46" height="11.94" fill="#f5f5f5"/>
<rect x="206.90" y="521.02" width="13.46" height="11.94" fill="#f5f5f5"/>
<rect x="220.76" y="521.02" width="13.46" height="11.94" fill="#f5f5f5"/>
<rect x="68.30" y="533.86" width="13.46" height="11.94" fill="#f5f5f5"/>
<rect x="82.16" y="533.86" width="13.46" height="11.94" fill="#f5f5f5"/>
<rect x="96.02" y="533.86" width="13.46" height="11.94" fill="#f5f5f5"/>
<rect x="109.88" y="533.86" width="13.46" height="11.94" fill="#f5f5f5"/>
<rect x="123.74" y="533.86" width="13.46" height="11.94" fill="#f5f5f5"/>
<rect x="137.60" y="533.86" width="13.46" height="11.94" fill="#f5f5f5"/>
<rect x="151.46" y="533.86" width="13.46" height="11.94" fill="#f5f5f5"/>
<rect x="165.32" y="533.86" width="13.46" height="11.94" fill="#f5f5f5"/>
<rect x="179.18" y="533.86" width="13.46" height="11.94" fill="#f5f5f5"/>
<rect x="193.04" y="533.86" width="13.46" height="11.94" fill="#f5f5f5"/>
<rect x="206.90" y="533.86" width="13.46" height="11.94" fill="#f5f5f5"/>
<rect x="68.30" y="546.70" width="13.46" height="11.94" fill="#f5f5f5"/>
<rect x="82.16" y="546.70" width="13.46" height="11.94" fill="#f5f5f5"/>
<rect x="96.02" y="546.70" width="13.46" height="11.94" fill="#f5f5f5"/>
<rect x="109.88" y="546.70" width="13.46" height="11.94" fill="#f5f5f5"/>
<rect x="123.74" y="546.70" width="13.46" height="11.94" fill="#f5f5f5"/>
<rect x="137.60" y="546.70" width="13.46" height="11.94" fill="#f5f5f5"/>
<rect x="151.46" y="546.70" width="13.46" height="11.94" fill="#f5f5f5"/>
<rect x="165.32" y="546.70" width="13.46" height="11.94" fill="#f5f5f5"/>
<rect x="179.18" y="546.70" width="13.46" height="11.94" fill="#f5f5f5"/>
<rect x="193.04" y="546.70" width="13.46" height="11.94" fill="#f5f5f5"/>
<rect x="68.30" y="559.54" width="13.46" height="11.94" fill="#f5f5f5"/>
<rect x="82.16" y="559.54" width="13.46" height="11.94" fill="#f5f5f5"/>
<rect x="96.02" y="559.54" width="13.46" height="11.94" fill="#f5f5f5"/>
<rect x="109.88" y="559.54" width="13.46" height="11.94" fill="#f5f5f5"/>
<rect x="123.74" y="559.54" width="13.46" height="11.94" fill="#f5f5f5"/>
<rect x="137.60" y="559.54" width="13.46" height="11.94" fill="#f5f5f5"/>
<rect x="151.46" y="559.54" width="13.46" height="11.94" fill="#f5f5f5"/>
<rect x="165.32" y="559.54" width="13.46" height="11.94" fill="#f5f5f5"/>
<rect x="179.18" y="559.54" width="13.46" height="11.94" fill="#f5f5f5"/>
<rect x="68.30" y="572.38" width="13.46" height="11.94" fill="#f5f5f5"/>
<rect x="82.16" y="572.38" width="13.46" height="11.94" fill="#f5f5f5"/>
<rect x="96.02" y="572.38" width="13.46" height="11.94" fill="#f5f5f5"/>
<rect x="109.88" y="572.38" width="13.46" height="11.94" fill="#f5f5f5"/>
<rect x="123.74" y="572.38" width="13.46" height="11.94" fill="#f5f5f5"/>
<rect x="137.60" y="572.38" width="13.46" height="11.94" fill="#f5f5f5"/>
<rect x="151.46" y="572.38" width="13.46" height="11.94" fill="#b6d59c"/>
<circle cx="158.19" cy="578.35" r="0.85" fill="#333"/>
<rect x="165.32" y="572.38" width="13.46" height="11.94" fill="#f5f5f5"/>
<rect x="68.30" y="585.22" width="13.46" height="11.94" fill="#f5f5f5"/>
<rect x="82.16" y="585.22" width="13.46" height="11.94" fill="#f5f5f5"/>
<rect x="96.02" y="585.22" width="13.46" height="11.94" fill="#f5f5f5"/>
<rect x="109.88" y="585.22" width="13.46" height="11.94" fill="#f5f5f5"/>
<rect x="123.74" y="585.22" width="13.46" height="11.94" fill="#f5f5f5"/>
<rect x="137.60" y="585.22" width="13.46" height="11.94" fill="#f5f5f5"/>
<rect x="151.46" y="585.22" width="13.46" height="11.94" fill="#f5f5f5"/>
<rect x="68.30" y="598.06" width="13.46" height="11.94" fill="#f5f5f5"/>
<rect x="82.16" y="598.06" width="13.46" height="11.94" fill="#f5f5f5"/>
<rect x="96.02" y="598.06" width="13.46" height="11.94" fill="#f5f5f5"/>
<rect x="109.88" y="598.06" width="13.46" height="11.94" fill="#f5f5f5"/>
<rect x="123.74" y="598.06" width="13.46" height="11.94" fill="#f5f5f5"/>
<rect x="137.60" y="598.06" width="13.46" height="11.94" fill="#f5f5f5"/>
<rect x="68.30" y="610.90" width="13.46" height="11.94" fill="#b6d59c"/>
<circle cx="75.03" cy="616.87" r="0.85" fill="#333"/>
<rect x="82.16" y="610.90" width="13.46" height="11.94" fill="#f5f5f5"/>
<rect x="96.02" y="610.90" width="13.46" height="11.94" fill="#f5f5f5"/>
<rect x="109.88" y="610.90" width="13.46" height="11.94" fill="#f5f5f5"/>
<rect x="123.74" y="610.90" width="13.46" height="11.94" fill="#f5f5f5"/>
<rect x="68.30" y="623.74" width="13.46" height="11.94" fill="#f5f5f5"/>
<rect x="82.16" y="623.74" width="13.46" height="11.94" fill="#f5f5f5"/>
<rect x="96.02" y="623.74" width="13.46" height="11.94" fill="#f5f5f5"/>
<rect x="109.88" y="623.74" width="13.46" height="11.94" fill="#f5f5f5"/>
<rect x="68.30" y="636.58" width="13.46" height="11.94" fill="#f5f5f5"/>
<rect x="82.16" y="636.58" width="13.46" height="11.94" fill="#f5f5f5"/>
<rect x="96.02" y="636.58" width="13.46" height="11.94" fill="#f5f5f5"/>
<rect x="68.30" y="649.42" width="13.46" height="11.94" fill="#4f9a48"/>
<circle cx="75.03" cy="655.39" r="0.85" fill="#333"/>
<rect x="82.16" y="649.42" width="13.46" height="11.94" fill="#f5f5f5"/>
<rect x="68.30" y="662.26" width="13.46" height="11.94" fill="#f5f5f5"/>
<text transform="translate(77.33,348.0) rotate(-90)" font-size="10.2" fill="#231f20" textLength="24.46" lengthAdjust="spacingAndGlyphs">HRAS</text>
<text transform="translate(91.22,348.0) rotate(-90)" font-size="10.2" fill="#231f20" textLength="32.28" lengthAdjust="spacingAndGlyphs">PIK3CA</text>
<text transform="translate(105.11,348.0) rotate(-90)" font-size="10.2" fill="#231f20" textLength="23.73" lengthAdjust="spacingAndGlyphs">PTEN</text>
<text transform="translate(119.00,348.0) rotate(-90)" font-size="10.2" fill="#231f20" textLength="28.85" lengthAdjust="spacingAndGlyphs">FGFR1</text>
<text transform="translate(132.89,348.0) rotate(-90)" font-size="10.2" fill="#231f20" textLength="34.13" lengthAdjust="spacingAndGlyphs">ARID1A</text>
<text transform="translate(146.78,348.0) rotate(-90)" font-size="10.2" fill="#231f20" textLength="29.15" lengthAdjust="spacingAndGlyphs">ERBB2</text>
<text transform="translate(160.67,348.0) rotate(-90)" font-size="10.2" fill="#231f20" textLength="33.52" lengthAdjust="spacingAndGlyphs">RICTOR</text>
<text transform="translate(174.56,348.0) rotate(-90)" font-size="10.2" fill="#231f20" textLength="36.73" lengthAdjust="spacingAndGlyphs">PDGFRB</text>
<text transform="translate(188.45,348.0) rotate(-90)" font-size="10.2" fill="#231f20" textLength="28.90" lengthAdjust="spacingAndGlyphs">ERCC2</text>
<text transform="translate(202.34,348.0) rotate(-90)" font-size="10.2" fill="#231f20" textLength="35.18" lengthAdjust="spacingAndGlyphs">CREBBP</text>
<text transform="translate(216.23,348.0) rotate(-90)" font-size="10.2" fill="#231f20" textLength="25.29" lengthAdjust="spacingAndGlyphs">CDH1</text>
<text transform="translate(230.12,348.0) rotate(-90)" font-size="10.2" fill="#231f20" textLength="23.23" lengthAdjust="spacingAndGlyphs">AKT1</text>
<text transform="translate(244.01,348.0) rotate(-90)" font-size="10.2" fill="#231f20" textLength="23.83" lengthAdjust="spacingAndGlyphs">BAP1</text>
<text transform="translate(257.90,348.0) rotate(-90)" font-size="10.2" fill="#231f20" textLength="20.31" lengthAdjust="spacingAndGlyphs">MET</text>
<text transform="translate(271.79,348.0) rotate(-90)" font-size="10.2" fill="#231f20" textLength="38.38" lengthAdjust="spacingAndGlyphs">NOTCH3</text>
<text transform="translate(285.68,348.0) rotate(-90)" font-size="10.2" fill="#231f20" textLength="17.89" lengthAdjust="spacingAndGlyphs">NF1</text>
<text transform="translate(299.57,348.0) rotate(-90)" font-size="10.2" fill="#231f20" textLength="17.69" lengthAdjust="spacingAndGlyphs">RB1</text>
<text transform="translate(313.46,348.0) rotate(-90)" font-size="10.2" fill="#231f20" textLength="22.40" lengthAdjust="spacingAndGlyphs">TP53</text>
<text transform="translate(327.35,348.0) rotate(-90)" font-size="10.2" fill="#231f20" textLength="21.32" lengthAdjust="spacingAndGlyphs">ATM</text>
<text transform="translate(341.24,348.0) rotate(-90)" font-size="10.2" fill="#231f20" textLength="28.04" lengthAdjust="spacingAndGlyphs">EP300</text>
<text transform="translate(355.13,348.0) rotate(-90)" font-size="10.2" fill="#231f20" textLength="18.08" lengthAdjust="spacingAndGlyphs">APC</text>
<text transform="translate(369.02,348.0) rotate(-90)" font-size="10.2" fill="#231f20" textLength="24.10" lengthAdjust="spacingAndGlyphs">ROS1</text>
<text transform="translate(382.91,348.0) rotate(-90)" font-size="10.2" fill="#231f20" textLength="38.38" lengthAdjust="spacingAndGlyphs">NOTCH1</text>
<text transform="translate(396.80,348.0) rotate(-90)" font-size="10.2" fill="#231f20" textLength="16.86" lengthAdjust="spacingAndGlyphs">ALK</text>
<text transform="translate(410.69,348.0) rotate(-90)" font-size="10.2" fill="#231f20" textLength="28.85" lengthAdjust="spacingAndGlyphs">FGFR4</text>
<text x="37.75" y="363.80" font-size="10.2" fill="#231f20" textLength="28.85" lengthAdjust="spacingAndGlyphs">FGFR4</text>
<text x="49.74" y="376.67" font-size="10.2" fill="#231f20" textLength="16.86" lengthAdjust="spacingAndGlyphs">ALK</text>
<text x="28.22" y="389.54" font-size="10.2" fill="#231f20" textLength="38.38" lengthAdjust="spacingAndGlyphs">NOTCH1</text>
<text x="42.50" y="402.41" font-size="10.2" fill="#231f20" textLength="24.10" lengthAdjust="spacingAndGlyphs">ROS1</text>
<text x="48.52" y="415.28" font-size="10.2" fill="#231f20" textLength="18.08" lengthAdjust="spacingAndGlyphs">APC</text>
<text x="38.56" y="428.15" font-size="10.2" fill="#231f20" textLength="28.04" lengthAdjust="spacingAndGlyphs">EP300</text>
<text x="45.28" y="441.02" font-size="10.2" fill="#231f20" textLength="21.32" lengthAdjust="spacingAndGlyphs">ATM</text>
<text x="44.20" y="453.89" font-size="10.2" fill="#231f20" textLength="22.40" lengthAdjust="spacingAndGlyphs">TP53</text>
<text x="48.91" y="466.76" font-size="10.2" fill="#231f20" textLength="17.69" lengthAdjust="spacingAndGlyphs">RB1</text>
<text x="48.71" y="479.63" font-size="10.2" fill="#231f20" textLength="17.89" lengthAdjust="spacingAndGlyphs">NF1</text>
<text x="28.22" y="492.50" font-size="10.2" fill="#231f20" textLength="38.38" lengthAdjust="spacingAndGlyphs">NOTCH3</text>
<text x="46.29" y="505.37" font-size="10.2" fill="#231f20" textLength="20.31" lengthAdjust="spacingAndGlyphs">MET</text>
<text x="42.77" y="518.24" font-size="10.2" fill="#231f20" textLength="23.83" lengthAdjust="spacingAndGlyphs">BAP1</text>
<text x="43.37" y="531.11" font-size="10.2" fill="#231f20" textLength="23.23" lengthAdjust="spacingAndGlyphs">AKT1</text>
<text x="41.31" y="543.98" font-size="10.2" fill="#231f20" textLength="25.29" lengthAdjust="spacingAndGlyphs">CDH1</text>
<text x="31.42" y="556.85" font-size="10.2" fill="#231f20" textLength="35.18" lengthAdjust="spacingAndGlyphs">CREBBP</text>
<text x="37.70" y="569.72" font-size="10.2" fill="#231f20" textLength="28.90" lengthAdjust="spacingAndGlyphs">ERCC2</text>
<text x="29.87" y="582.59" font-size="10.2" fill="#231f20" textLength="36.73" lengthAdjust="spacingAndGlyphs">PDGFRB</text>
<text x="33.08" y="595.46" font-size="10.2" fill="#231f20" textLength="33.52" lengthAdjust="spacingAndGlyphs">RICTOR</text>
<text x="37.45" y="608.33" font-size="10.2" fill="#231f20" textLength="29.15" lengthAdjust="spacingAndGlyphs">ERBB2</text>
<text x="32.47" y="621.20" font-size="10.2" fill="#231f20" textLength="34.13" lengthAdjust="spacingAndGlyphs">ARID1A</text>
<text x="37.75" y="634.07" font-size="10.2" fill="#231f20" textLength="28.85" lengthAdjust="spacingAndGlyphs">FGFR1</text>
<text x="42.87" y="646.94" font-size="10.2" fill="#231f20" textLength="23.73" lengthAdjust="spacingAndGlyphs">PTEN</text>
<text x="34.32" y="659.81" font-size="10.2" fill="#231f20" textLength="32.28" lengthAdjust="spacingAndGlyphs">PIK3CA</text>
<text x="42.14" y="672.68" font-size="10.2" fill="#231f20" textLength="24.46" lengthAdjust="spacingAndGlyphs">HRAS</text>
<text x="328.80" y="495.80" font-size="11.1" text-anchor="start" font-weight="normal" fill="#231f20" >Co−occurance</text>
<rect x="330.1" y="506.70" width="7.0" height="14.53" fill="#539c4b"/>
<rect x="330.1" y="521.17" width="7.0" height="14.53" fill="#84b96c"/>
<rect x="330.1" y="535.65" width="7.0" height="14.53" fill="#b8d79f"/>
<rect x="330.1" y="550.12" width="7.0" height="14.53" fill="#e2e7d3"/>
<rect x="330.1" y="564.60" width="7.0" height="14.53" fill="#f1e0e6"/>
<rect x="330.1" y="579.08" width="7.0" height="14.53" fill="#e6bacc"/>
<rect x="330.1" y="593.55" width="7.0" height="14.53" fill="#d886ac"/>
<rect x="330.1" y="608.02" width="7.0" height="14.53" fill="#b83d7d"/>
<line x1="342.4" y1="513.3" x2="342.4" y2="615.1" stroke="#444" stroke-width="0.9"/>
<line x1="342.4" y1="513.60" x2="345.1" y2="513.60" stroke="#444" stroke-width="0.9"/>
<text transform="translate(346.8,517.10) scale(1.1,1)" font-size="10.1" fill="#231f20">3</text>
<line x1="342.4" y1="530.47" x2="345.1" y2="530.47" stroke="#444" stroke-width="0.9"/>
<text transform="translate(346.8,533.97) scale(1.1,1)" font-size="10.1" fill="#231f20">2</text>
<line x1="342.4" y1="547.34" x2="345.1" y2="547.34" stroke="#444" stroke-width="0.9"/>
<text transform="translate(346.8,550.84) scale(1.1,1)" font-size="10.1" fill="#231f20">1</text>
<line x1="342.4" y1="564.21" x2="345.1" y2="564.21" stroke="#444" stroke-width="0.9"/>
<text transform="translate(346.8,567.71) scale(1.1,1)" font-size="10.1" fill="#231f20">0</text>
<line x1="342.4" y1="581.08" x2="345.1" y2="581.08" stroke="#444" stroke-width="0.9"/>
<text transform="translate(346.8,584.58) scale(1.1,1)" font-size="10.1" fill="#231f20">1</text>
<line x1="342.4" y1="597.95" x2="345.1" y2="597.95" stroke="#444" stroke-width="0.9"/>
<text transform="translate(346.8,601.45) scale(1.1,1)" font-size="10.1" fill="#231f20">2</text>
<line x1="342.4" y1="614.82" x2="345.1" y2="614.82" stroke="#444" stroke-width="0.9"/>
<text transform="translate(346.8,618.32) scale(1.1,1)" font-size="10.1" fill="#231f20">3</text>
<text x="0.00" y="0.00" font-size="11" text-anchor="middle" font-weight="normal" fill="#231f20" transform="translate(378.4,561.3) rotate(-90)">log10 (p−value)</text>
<circle cx="264.0" cy="553.8" r="1.3" fill="#333"/>
<circle cx="263.8" cy="568.4" r="0.65" fill="#444"/>
<text x="271.60" y="556.90" font-size="11" text-anchor="start" font-weight="normal" fill="#231f20" >p &lt; 0.05</text>
<text x="269.90" y="569.20" font-size="11" text-anchor="start" font-weight="normal" fill="#231f20" >p &lt; 0.1</text>
<text x="329.40" y="637.30" font-size="10.9" text-anchor="start" font-weight="normal" fill="#231f20" >Exclusive</text>
<text transform="translate(447.0,319.9) scale(0.84,1)" font-size="21.8" font-weight="bold" fill="#231f20" stroke="#231f20" stroke-width="0.7">C</text>
<rect x="505.0" y="310.55" width="12.90" height="4.4" fill="#eca56b"/>
<rect x="520.8" y="310.55" width="13.00" height="4.4" fill="#d7d8d8"/>
<rect x="525.85" y="310.55" width="2.9" height="4.4" fill="#d9534f"/>
<rect x="537.2" y="310.55" width="12.80" height="4.4" fill="#d7d8d8"/>
<rect x="542.15" y="310.55" width="2.9" height="4.4" fill="#d9534f"/>
<rect x="553.2" y="310.55" width="12.70" height="4.4" fill="#d7d8d8"/>
<rect x="558.10" y="310.55" width="2.9" height="4.4" fill="#d9534f"/>
<text x="475.70" y="316.45" font-size="10.4" fill="#1a1a1a" textLength="25.7" lengthAdjust="spacingAndGlyphs">SM01</text>
<rect x="505.0" y="317.69" width="12.90" height="4.4" fill="#eca56b"/>
<rect x="520.8" y="317.69" width="13.00" height="4.4" fill="#4faad8"/>
<rect x="537.2" y="317.69" width="12.80" height="4.4" fill="#4faad8"/>
<rect x="553.2" y="317.69" width="12.70" height="4.4" fill="#d7d8d8"/>
<text x="475.70" y="323.59" font-size="10.4" fill="#1a1a1a" textLength="25.7" lengthAdjust="spacingAndGlyphs">SM47</text>
<rect x="505.0" y="324.83" width="12.90" height="4.4" fill="#4faad8"/>
<rect x="520.8" y="324.83" width="13.00" height="4.4" fill="#4faad8"/>
<rect x="537.2" y="324.83" width="12.80" height="4.4" fill="#4faad8"/>
<rect x="542.15" y="324.83" width="2.9" height="4.4" fill="#d9534f"/>
<rect x="553.2" y="324.83" width="12.70" height="4.4" fill="#d7d8d8"/>
<text x="475.70" y="330.73" font-size="10.4" fill="#1a1a1a" textLength="25.7" lengthAdjust="spacingAndGlyphs">SM51</text>
<rect x="505.0" y="331.97" width="12.90" height="4.4" fill="#4faad8"/>
<rect x="520.8" y="331.97" width="13.00" height="4.4" fill="#4faad8"/>
<rect x="537.2" y="331.97" width="12.80" height="4.4" fill="#d7d8d8"/>
<rect x="553.2" y="331.97" width="12.70" height="4.4" fill="#4faad8"/>
<rect x="558.10" y="331.97" width="2.9" height="4.4" fill="#d9534f"/>
<text x="475.70" y="337.87" font-size="10.4" fill="#1a1a1a" textLength="25.7" lengthAdjust="spacingAndGlyphs">SM07</text>
<rect x="505.0" y="339.11" width="12.90" height="4.4" fill="#7671ae"/>
<rect x="520.8" y="339.11" width="13.00" height="4.4" fill="#4faad8"/>
<rect x="537.2" y="339.11" width="12.80" height="4.4" fill="#d7d8d8"/>
<rect x="553.2" y="339.11" width="12.70" height="4.4" fill="#4faad8"/>
<text x="475.70" y="345.01" font-size="10.4" fill="#1a1a1a" textLength="25.7" lengthAdjust="spacingAndGlyphs">SM44</text>
<rect x="505.0" y="346.25" width="12.90" height="4.4" fill="#4faad8"/>
<rect x="520.8" y="346.25" width="13.00" height="4.4" fill="#f8e630"/>
<rect x="537.2" y="346.25" width="12.80" height="4.4" fill="#d7d8d8"/>
<rect x="553.2" y="346.25" width="12.70" height="4.4" fill="#4faad8"/>
<text x="475.70" y="352.15" font-size="10.4" fill="#1a1a1a" textLength="25.7" lengthAdjust="spacingAndGlyphs">SM37</text>
<rect x="505.0" y="353.39" width="12.90" height="4.4" fill="#eca56b"/>
<rect x="520.8" y="353.39" width="13.00" height="4.4" fill="#4faad8"/>
<rect x="537.2" y="353.39" width="12.80" height="4.4" fill="#d7d8d8"/>
<rect x="553.2" y="353.39" width="12.70" height="4.4" fill="#d7d8d8"/>
<rect x="558.10" y="353.39" width="2.9" height="4.4" fill="#d9534f"/>
<text x="475.70" y="359.29" font-size="10.4" fill="#1a1a1a" textLength="25.7" lengthAdjust="spacingAndGlyphs">SM45</text>
<rect x="505.0" y="360.53" width="12.90" height="4.4" fill="#7671ae"/>
<rect x="520.8" y="360.53" width="13.00" height="4.4" fill="#d7d8d8"/>
<rect x="525.85" y="360.53" width="2.9" height="4.4" fill="#d9534f"/>
<rect x="537.2" y="360.53" width="12.80" height="4.4" fill="#d7d8d8"/>
<rect x="553.2" y="360.53" width="12.70" height="4.4" fill="#d7d8d8"/>
<rect x="558.10" y="360.53" width="2.9" height="4.4" fill="#d9534f"/>
<text x="475.70" y="366.43" font-size="10.4" fill="#1a1a1a" textLength="25.7" lengthAdjust="spacingAndGlyphs">SM03</text>
<rect x="505.0" y="367.67" width="12.90" height="4.4" fill="#4faad8"/>
<rect x="520.8" y="367.67" width="13.00" height="4.4" fill="#4faad8"/>
<rect x="537.2" y="367.67" width="12.80" height="4.4" fill="#d7d8d8"/>
<rect x="553.2" y="367.67" width="12.70" height="4.4" fill="#d7d8d8"/>
<text x="475.70" y="373.57" font-size="10.4" fill="#1a1a1a" textLength="25.7" lengthAdjust="spacingAndGlyphs">SM17</text>
<rect x="505.0" y="374.81" width="12.90" height="4.4" fill="#4faad8"/>
<rect x="520.8" y="374.81" width="13.00" height="4.4" fill="#d7d8d8"/>
<rect x="537.2" y="374.81" width="12.80" height="4.4" fill="#d7d8d8"/>
<rect x="553.2" y="374.81" width="12.70" height="4.4" fill="#4faad8"/>
<rect x="558.10" y="374.81" width="2.9" height="4.4" fill="#d9534f"/>
<text x="475.70" y="380.71" font-size="10.4" fill="#1a1a1a" textLength="25.7" lengthAdjust="spacingAndGlyphs">SM06</text>
<rect x="505.0" y="381.95" width="12.90" height="4.4" fill="#f8e630"/>
<rect x="520.8" y="381.95" width="13.00" height="4.4" fill="#d7d8d8"/>
<rect x="537.2" y="381.95" width="12.80" height="4.4" fill="#d7d8d8"/>
<rect x="553.2" y="381.95" width="12.70" height="4.4" fill="#4faad8"/>
<rect x="558.10" y="381.95" width="2.9" height="4.4" fill="#d9534f"/>
<text x="475.70" y="387.85" font-size="10.4" fill="#1a1a1a" textLength="25.7" lengthAdjust="spacingAndGlyphs">SM24</text>
<rect x="505.0" y="389.09" width="12.90" height="4.4" fill="#4faad8"/>
<rect x="520.8" y="389.09" width="13.00" height="4.4" fill="#d7d8d8"/>
<rect x="537.2" y="389.09" width="12.80" height="4.4" fill="#d7d8d8"/>
<rect x="553.2" y="389.09" width="12.70" height="4.4" fill="#4faad8"/>
<text x="475.70" y="394.99" font-size="10.4" fill="#1a1a1a" textLength="25.7" lengthAdjust="spacingAndGlyphs">SM49</text>
<rect x="505.0" y="396.23" width="12.90" height="4.4" fill="#00924f"/>
<rect x="520.8" y="396.23" width="13.00" height="4.4" fill="#d7d8d8"/>
<rect x="537.2" y="396.23" width="12.80" height="4.4" fill="#d7d8d8"/>
<rect x="553.2" y="396.23" width="12.70" height="4.4" fill="#d7d8d8"/>
<rect x="558.10" y="396.23" width="2.9" height="4.4" fill="#d9534f"/>
<text x="475.70" y="402.13" font-size="10.4" fill="#1a1a1a" textLength="25.7" lengthAdjust="spacingAndGlyphs">SM31</text>
<rect x="505.0" y="403.37" width="12.90" height="4.4" fill="#eca56b"/>
<rect x="520.8" y="403.37" width="13.00" height="4.4" fill="#d7d8d8"/>
<rect x="537.2" y="403.37" width="12.80" height="4.4" fill="#d7d8d8"/>
<rect x="553.2" y="403.37" width="12.70" height="4.4" fill="#d7d8d8"/>
<rect x="558.10" y="403.37" width="2.9" height="4.4" fill="#d9534f"/>
<text x="475.70" y="409.27" font-size="10.4" fill="#1a1a1a" textLength="25.7" lengthAdjust="spacingAndGlyphs">SM42</text>
<rect x="505.0" y="410.51" width="12.90" height="4.4" fill="#4faad8"/>
<rect x="520.8" y="410.51" width="13.00" height="4.4" fill="#d7d8d8"/>
<rect x="537.2" y="410.51" width="12.80" height="4.4" fill="#d7d8d8"/>
<rect x="553.2" y="410.51" width="12.70" height="4.4" fill="#d7d8d8"/>
<rect x="558.10" y="410.51" width="2.9" height="4.4" fill="#d9534f"/>
<text x="475.70" y="416.41" font-size="10.4" fill="#1a1a1a" textLength="25.7" lengthAdjust="spacingAndGlyphs">SM61</text>
<rect x="505.0" y="417.65" width="12.90" height="4.4" fill="#4faad8"/>
<rect x="520.8" y="417.65" width="13.00" height="4.4" fill="#d7d8d8"/>
<rect x="537.2" y="417.65" width="12.80" height="4.4" fill="#d7d8d8"/>
<rect x="553.2" y="417.65" width="12.70" height="4.4" fill="#d7d8d8"/>
<rect x="558.10" y="417.65" width="2.9" height="4.4" fill="#d9534f"/>
<text x="475.70" y="423.55" font-size="10.4" fill="#1a1a1a" textLength="25.7" lengthAdjust="spacingAndGlyphs">SM16</text>
<rect x="505.0" y="424.79" width="12.90" height="4.4" fill="#7671ae"/>
<rect x="520.8" y="424.79" width="13.00" height="4.4" fill="#d7d8d8"/>
<rect x="537.2" y="424.79" width="12.80" height="4.4" fill="#d7d8d8"/>
<rect x="553.2" y="424.79" width="12.70" height="4.4" fill="#d7d8d8"/>
<rect x="558.10" y="424.79" width="2.9" height="4.4" fill="#d9534f"/>
<text x="475.70" y="430.69" font-size="10.4" fill="#1a1a1a" textLength="25.7" lengthAdjust="spacingAndGlyphs">SM50</text>
<rect x="505.0" y="431.93" width="12.90" height="4.4" fill="#4faad8"/>
<rect x="520.8" y="431.93" width="13.00" height="4.4" fill="#d7d8d8"/>
<rect x="537.2" y="431.93" width="12.80" height="4.4" fill="#d7d8d8"/>
<rect x="553.2" y="431.93" width="12.70" height="4.4" fill="#d7d8d8"/>
<text x="475.70" y="437.83" font-size="10.4" fill="#1a1a1a" textLength="25.7" lengthAdjust="spacingAndGlyphs">SM57</text>
<rect x="505.0" y="439.07" width="12.90" height="4.4" fill="#7671ae"/>
<rect x="520.8" y="439.07" width="13.00" height="4.4" fill="#d7d8d8"/>
<rect x="537.2" y="439.07" width="12.80" height="4.4" fill="#d7d8d8"/>
<rect x="553.2" y="439.07" width="12.70" height="4.4" fill="#d7d8d8"/>
<text x="475.70" y="444.97" font-size="10.4" fill="#1a1a1a" textLength="25.7" lengthAdjust="spacingAndGlyphs">SM26</text>
<rect x="505.0" y="446.21" width="12.90" height="4.4" fill="#7671ae"/>
<rect x="520.8" y="446.21" width="13.00" height="4.4" fill="#d7d8d8"/>
<rect x="537.2" y="446.21" width="12.80" height="4.4" fill="#d7d8d8"/>
<rect x="553.2" y="446.21" width="12.70" height="4.4" fill="#d7d8d8"/>
<text x="475.70" y="452.11" font-size="10.4" fill="#1a1a1a" textLength="25.7" lengthAdjust="spacingAndGlyphs">SM56</text>
<rect x="505.0" y="453.35" width="12.90" height="4.4" fill="#4faad8"/>
<rect x="520.8" y="453.35" width="13.00" height="4.4" fill="#d7d8d8"/>
<rect x="537.2" y="453.35" width="12.80" height="4.4" fill="#d7d8d8"/>
<rect x="553.2" y="453.35" width="12.70" height="4.4" fill="#d7d8d8"/>
<text x="475.70" y="459.25" font-size="10.4" fill="#1a1a1a" textLength="25.7" lengthAdjust="spacingAndGlyphs">SM12</text>
<rect x="505.0" y="460.49" width="12.90" height="4.4" fill="#4faad8"/>
<rect x="520.8" y="460.49" width="13.00" height="4.4" fill="#d7d8d8"/>
<rect x="537.2" y="460.49" width="12.80" height="4.4" fill="#d7d8d8"/>
<rect x="553.2" y="460.49" width="12.70" height="4.4" fill="#d7d8d8"/>
<text x="475.70" y="466.39" font-size="10.4" fill="#1a1a1a" textLength="25.7" lengthAdjust="spacingAndGlyphs">SM40</text>
<rect x="505.0" y="467.63" width="12.90" height="4.4" fill="#eca56b"/>
<rect x="520.8" y="467.63" width="13.00" height="4.4" fill="#d7d8d8"/>
<rect x="537.2" y="467.63" width="12.80" height="4.4" fill="#d7d8d8"/>
<rect x="553.2" y="467.63" width="12.70" height="4.4" fill="#d7d8d8"/>
<text x="475.70" y="473.53" font-size="10.4" fill="#1a1a1a" textLength="25.7" lengthAdjust="spacingAndGlyphs">SM05</text>
<rect x="505.0" y="474.77" width="12.90" height="4.4" fill="#4faad8"/>
<rect x="520.8" y="474.77" width="13.00" height="4.4" fill="#d7d8d8"/>
<rect x="537.2" y="474.77" width="12.80" height="4.4" fill="#d7d8d8"/>
<rect x="553.2" y="474.77" width="12.70" height="4.4" fill="#d7d8d8"/>
<text x="475.70" y="480.67" font-size="10.4" fill="#1a1a1a" textLength="25.7" lengthAdjust="spacingAndGlyphs">SM04</text>
<rect x="505.0" y="481.91" width="12.90" height="4.4" fill="#00924f"/>
<rect x="520.8" y="481.91" width="13.00" height="4.4" fill="#d7d8d8"/>
<rect x="537.2" y="481.91" width="12.80" height="4.4" fill="#d7d8d8"/>
<rect x="553.2" y="481.91" width="12.70" height="4.4" fill="#d7d8d8"/>
<text x="475.70" y="487.81" font-size="10.4" fill="#1a1a1a" textLength="25.7" lengthAdjust="spacingAndGlyphs">SM29</text>
<rect x="505.0" y="489.05" width="12.90" height="4.4" fill="#00924f"/>
<rect x="520.8" y="489.05" width="13.00" height="4.4" fill="#d7d8d8"/>
<rect x="537.2" y="489.05" width="12.80" height="4.4" fill="#d7d8d8"/>
<rect x="553.2" y="489.05" width="12.70" height="4.4" fill="#d7d8d8"/>
<text x="475.70" y="494.95" font-size="10.4" fill="#1a1a1a" textLength="25.7" lengthAdjust="spacingAndGlyphs">SM30</text>
<rect x="505.0" y="496.19" width="12.90" height="4.4" fill="#f8e630"/>
<rect x="520.8" y="496.19" width="13.00" height="4.4" fill="#d7d8d8"/>
<rect x="537.2" y="496.19" width="12.80" height="4.4" fill="#d7d8d8"/>
<rect x="553.2" y="496.19" width="12.70" height="4.4" fill="#d7d8d8"/>
<text x="475.70" y="502.09" font-size="10.4" fill="#1a1a1a" textLength="25.7" lengthAdjust="spacingAndGlyphs">SM39</text>
<rect x="505.0" y="503.33" width="12.90" height="4.4" fill="#4faad8"/>
<rect x="520.8" y="503.33" width="13.00" height="4.4" fill="#d7d8d8"/>
<rect x="537.2" y="503.33" width="12.80" height="4.4" fill="#d7d8d8"/>
<rect x="553.2" y="503.33" width="12.70" height="4.4" fill="#d7d8d8"/>
<text x="475.70" y="509.23" font-size="10.4" fill="#1a1a1a" textLength="25.7" lengthAdjust="spacingAndGlyphs">SM02</text>
<rect x="505.0" y="510.47" width="12.90" height="4.4" fill="#eca56b"/>
<rect x="520.8" y="510.47" width="13.00" height="4.4" fill="#d7d8d8"/>
<rect x="537.2" y="510.47" width="12.80" height="4.4" fill="#d7d8d8"/>
<rect x="553.2" y="510.47" width="12.70" height="4.4" fill="#d7d8d8"/>
<text x="475.70" y="516.37" font-size="10.4" fill="#1a1a1a" textLength="25.7" lengthAdjust="spacingAndGlyphs">SM38</text>
<rect x="505.0" y="517.61" width="12.90" height="4.4" fill="#eca56b"/>
<rect x="520.8" y="517.61" width="13.00" height="4.4" fill="#d7d8d8"/>
<rect x="537.2" y="517.61" width="12.80" height="4.4" fill="#d7d8d8"/>
<rect x="553.2" y="517.61" width="12.70" height="4.4" fill="#d7d8d8"/>
<text x="475.70" y="523.51" font-size="10.4" fill="#1a1a1a" textLength="25.7" lengthAdjust="spacingAndGlyphs">SM19</text>
<rect x="505.0" y="524.75" width="12.90" height="4.4" fill="#f8e630"/>
<rect x="520.8" y="524.75" width="13.00" height="4.4" fill="#d7d8d8"/>
<rect x="537.2" y="524.75" width="12.80" height="4.4" fill="#d7d8d8"/>
<rect x="553.2" y="524.75" width="12.70" height="4.4" fill="#d7d8d8"/>
<text x="475.70" y="530.65" font-size="10.4" fill="#1a1a1a" textLength="25.7" lengthAdjust="spacingAndGlyphs">SM52</text>
<rect x="505.0" y="531.89" width="12.90" height="4.4" fill="#eca56b"/>
<rect x="520.8" y="531.89" width="13.00" height="4.4" fill="#d7d8d8"/>
<rect x="537.2" y="531.89" width="12.80" height="4.4" fill="#d7d8d8"/>
<rect x="553.2" y="531.89" width="12.70" height="4.4" fill="#d7d8d8"/>
<text x="475.70" y="537.79" font-size="10.4" fill="#1a1a1a" textLength="25.7" lengthAdjust="spacingAndGlyphs">SM11</text>
<rect x="505.0" y="539.03" width="12.90" height="4.4" fill="#d7d8d8"/>
<rect x="520.8" y="539.03" width="13.00" height="4.4" fill="#f8e630"/>
<rect x="537.2" y="539.03" width="12.80" height="4.4" fill="#f8e630"/>
<rect x="553.2" y="539.03" width="12.70" height="4.4" fill="#d7d8d8"/>
<text x="475.70" y="544.93" font-size="10.4" fill="#1a1a1a" textLength="25.7" lengthAdjust="spacingAndGlyphs">SM18</text>
<rect x="505.0" y="546.17" width="12.90" height="4.4" fill="#d7d8d8"/>
<rect x="520.8" y="546.17" width="13.00" height="4.4" fill="#4faad8"/>
<rect x="537.2" y="546.17" width="12.80" height="4.4" fill="#f8e630"/>
<rect x="553.2" y="546.17" width="12.70" height="4.4" fill="#d7d8d8"/>
<text x="475.70" y="552.07" font-size="10.4" fill="#1a1a1a" textLength="25.7" lengthAdjust="spacingAndGlyphs">SM58</text>
<rect x="505.0" y="553.31" width="12.90" height="4.4" fill="#d7d8d8"/>
<rect x="520.8" y="553.31" width="13.00" height="4.4" fill="#4faad8"/>
<rect x="537.2" y="553.31" width="12.80" height="4.4" fill="#4faad8"/>
<rect x="553.2" y="553.31" width="12.70" height="4.4" fill="#d7d8d8"/>
<text x="475.70" y="559.21" font-size="10.4" fill="#1a1a1a" textLength="25.7" lengthAdjust="spacingAndGlyphs">SM08</text>
<rect x="505.0" y="560.45" width="12.90" height="4.4" fill="#d7d8d8"/>
<rect x="520.8" y="560.45" width="13.00" height="4.4" fill="#f8e630"/>
<rect x="537.2" y="560.45" width="12.80" height="4.4" fill="#4faad8"/>
<rect x="553.2" y="560.45" width="12.70" height="4.4" fill="#d7d8d8"/>
<text x="475.70" y="566.35" font-size="10.4" fill="#1a1a1a" textLength="25.7" lengthAdjust="spacingAndGlyphs">SM48</text>
<rect x="505.0" y="567.59" width="12.90" height="4.4" fill="#d7d8d8"/>
<rect x="520.8" y="567.59" width="13.00" height="4.4" fill="#4faad8"/>
<rect x="537.2" y="567.59" width="12.80" height="4.4" fill="#4faad8"/>
<rect x="553.2" y="567.59" width="12.70" height="4.4" fill="#d7d8d8"/>
<text x="475.70" y="573.49" font-size="10.4" fill="#1a1a1a" textLength="25.7" lengthAdjust="spacingAndGlyphs">SM66</text>
<rect x="505.0" y="574.73" width="12.90" height="4.4" fill="#d7d8d8"/>
<rect x="520.8" y="574.73" width="13.00" height="4.4" fill="#4faad8"/>
<rect x="537.2" y="574.73" width="12.80" height="4.4" fill="#f8e630"/>
<rect x="553.2" y="574.73" width="12.70" height="4.4" fill="#d7d8d8"/>
<text x="475.70" y="580.63" font-size="10.4" fill="#1a1a1a" textLength="25.7" lengthAdjust="spacingAndGlyphs">SM14</text>
<rect x="505.0" y="581.87" width="12.90" height="4.4" fill="#d7d8d8"/>
<rect x="520.8" y="581.87" width="13.00" height="4.4" fill="#4faad8"/>
<rect x="537.2" y="581.87" width="12.80" height="4.4" fill="#4faad8"/>
<rect x="553.2" y="581.87" width="12.70" height="4.4" fill="#d7d8d8"/>
<text x="475.70" y="587.77" font-size="10.4" fill="#1a1a1a" textLength="25.7" lengthAdjust="spacingAndGlyphs">SM60</text>
<rect x="505.0" y="589.01" width="12.90" height="4.4" fill="#d7d8d8"/>
<rect x="520.8" y="589.01" width="13.00" height="4.4" fill="#4faad8"/>
<rect x="537.2" y="589.01" width="12.80" height="4.4" fill="#f8e630"/>
<rect x="553.2" y="589.01" width="12.70" height="4.4" fill="#d7d8d8"/>
<text x="475.70" y="594.91" font-size="10.4" fill="#1a1a1a" textLength="25.7" lengthAdjust="spacingAndGlyphs">SM59</text>
<rect x="505.0" y="596.15" width="12.90" height="4.4" fill="#d7d8d8"/>
<rect x="520.8" y="596.15" width="13.00" height="4.4" fill="#4faad8"/>
<rect x="537.2" y="596.15" width="12.80" height="4.4" fill="#4faad8"/>
<rect x="553.2" y="596.15" width="12.70" height="4.4" fill="#d7d8d8"/>
<text x="475.70" y="602.05" font-size="10.4" fill="#1a1a1a" textLength="25.7" lengthAdjust="spacingAndGlyphs">SM09</text>
<rect x="505.0" y="603.29" width="12.90" height="4.4" fill="#d7d8d8"/>
<rect x="520.8" y="603.29" width="13.00" height="4.4" fill="#4faad8"/>
<rect x="537.2" y="603.29" width="12.80" height="4.4" fill="#4faad8"/>
<rect x="553.2" y="603.29" width="12.70" height="4.4" fill="#d7d8d8"/>
<text x="475.70" y="609.19" font-size="10.4" fill="#1a1a1a" textLength="25.7" lengthAdjust="spacingAndGlyphs">SM63</text>
<rect x="505.0" y="610.43" width="12.90" height="4.4" fill="#d7d8d8"/>
<rect x="520.8" y="610.43" width="13.00" height="4.4" fill="#e07aa5"/>
<rect x="537.2" y="610.43" width="12.80" height="4.4" fill="#4faad8"/>
<rect x="553.2" y="610.43" width="12.70" height="4.4" fill="#d7d8d8"/>
<text x="475.70" y="616.33" font-size="10.4" fill="#1a1a1a" textLength="25.7" lengthAdjust="spacingAndGlyphs">SM46</text>
<rect x="505.0" y="617.57" width="12.90" height="4.4" fill="#d7d8d8"/>
<rect x="520.8" y="617.57" width="13.00" height="4.4" fill="#4faad8"/>
<rect x="537.2" y="617.57" width="12.80" height="4.4" fill="#d7d8d8"/>
<rect x="553.2" y="617.57" width="12.70" height="4.4" fill="#d7d8d8"/>
<rect x="558.10" y="617.57" width="2.9" height="4.4" fill="#d9534f"/>
<text x="475.70" y="623.47" font-size="10.4" fill="#1a1a1a" textLength="25.7" lengthAdjust="spacingAndGlyphs">SM55</text>
<rect x="505.0" y="624.71" width="12.90" height="4.4" fill="#d7d8d8"/>
<rect x="520.8" y="624.71" width="13.00" height="4.4" fill="#4faad8"/>
<rect x="537.2" y="624.71" width="12.80" height="4.4" fill="#d7d8d8"/>
<rect x="553.2" y="624.71" width="12.70" height="4.4" fill="#d7d8d8"/>
<text x="475.70" y="630.61" font-size="10.4" fill="#1a1a1a" textLength="25.7" lengthAdjust="spacingAndGlyphs">SM33</text>
<rect x="505.0" y="631.85" width="12.90" height="4.4" fill="#d7d8d8"/>
<rect x="520.8" y="631.85" width="13.00" height="4.4" fill="#d7d8d8"/>
<rect x="537.2" y="631.85" width="12.80" height="4.4" fill="#4faad8"/>
<rect x="553.2" y="631.85" width="12.70" height="4.4" fill="#d7d8d8"/>
<text x="475.70" y="637.75" font-size="10.4" fill="#1a1a1a" textLength="25.7" lengthAdjust="spacingAndGlyphs">SM20</text>
<rect x="505.0" y="638.99" width="12.90" height="4.4" fill="#d7d8d8"/>
<rect x="520.8" y="638.99" width="13.00" height="4.4" fill="#d7d8d8"/>
<rect x="537.2" y="638.99" width="12.80" height="4.4" fill="#d7d8d8"/>
<rect x="553.2" y="638.99" width="12.70" height="4.4" fill="#4faad8"/>
<text x="475.70" y="644.89" font-size="10.4" fill="#1a1a1a" textLength="25.7" lengthAdjust="spacingAndGlyphs">SM10</text>
<rect x="505.0" y="646.13" width="12.90" height="4.4" fill="#d7d8d8"/>
<rect x="520.8" y="646.13" width="13.00" height="4.4" fill="#d7d8d8"/>
<rect x="537.2" y="646.13" width="12.80" height="4.4" fill="#d7d8d8"/>
<rect x="553.2" y="646.13" width="12.70" height="4.4" fill="#d7d8d8"/>
<rect x="558.10" y="646.13" width="2.9" height="4.4" fill="#d9534f"/>
<text x="475.70" y="652.03" font-size="10.4" fill="#1a1a1a" textLength="25.7" lengthAdjust="spacingAndGlyphs">SM62</text>
<text transform="translate(514.95,676.20) rotate(-90)" font-size="10.6" fill="#231f20" textLength="22.6" lengthAdjust="spacingAndGlyphs" stroke="#231f20" stroke-width="0.15">TP53</text>
<text transform="translate(530.80,685.40) rotate(-90)" font-size="10.6" fill="#231f20" textLength="31.8" lengthAdjust="spacingAndGlyphs" stroke="#231f20" stroke-width="0.15">PIK3CA</text>
<text transform="translate(547.10,677.20) rotate(-90)" font-size="10.6" fill="#231f20" textLength="23.6" lengthAdjust="spacingAndGlyphs" stroke="#231f20" stroke-width="0.15">HRAS</text>
<text transform="translate(563.05,682.20) rotate(-90)" font-size="10.6" fill="#231f20" textLength="28.6" lengthAdjust="spacingAndGlyphs" stroke="#231f20" stroke-width="0.15">ERBB2</text>
<rect x="575.5" y="419.3" width="107.8" height="107.9" fill="#fff" stroke="#d1d3d4" stroke-width="1"/>
<rect x="582.2" y="427.90" width="10.5" height="10.1" fill="#7671ae"/>
<text x="598.30" y="436.80" font-size="11" text-anchor="start" font-weight="normal" fill="#231f20" >Frameshift Indel</text>
<rect x="582.2" y="441.62" width="10.5" height="10.1" fill="#e07aa5"/>
<text x="598.30" y="450.52" font-size="11" text-anchor="start" font-weight="normal" fill="#231f20" >In−frame Indel</text>
<rect x="582.2" y="455.34" width="10.5" height="10.1" fill="#4faad8"/>
<text x="598.30" y="464.24" font-size="11" text-anchor="start" font-weight="normal" fill="#231f20" >Missense</text>
<rect x="582.2" y="469.06" width="10.5" height="10.1" fill="#eca56b"/>
<text x="598.30" y="477.96" font-size="11" text-anchor="start" font-weight="normal" fill="#231f20" >Nonsense</text>
<rect x="582.2" y="482.78" width="10.5" height="10.1" fill="#00924f"/>
<text x="598.30" y="491.68" font-size="11" text-anchor="start" font-weight="normal" fill="#231f20" >Spliced</text>
<rect x="582.2" y="496.50" width="10.5" height="10.1" fill="#f8e630"/>
<text x="598.30" y="505.40" font-size="11" text-anchor="start" font-weight="normal" fill="#231f20" >Multi hit</text>
<rect x="582.2" y="510.22" width="10.5" height="10.1" fill="#d9534f"/>
<text x="598.30" y="519.12" font-size="11" text-anchor="start" font-weight="normal" fill="#231f20" >Amplification</text>
</svg>
</body></html>
